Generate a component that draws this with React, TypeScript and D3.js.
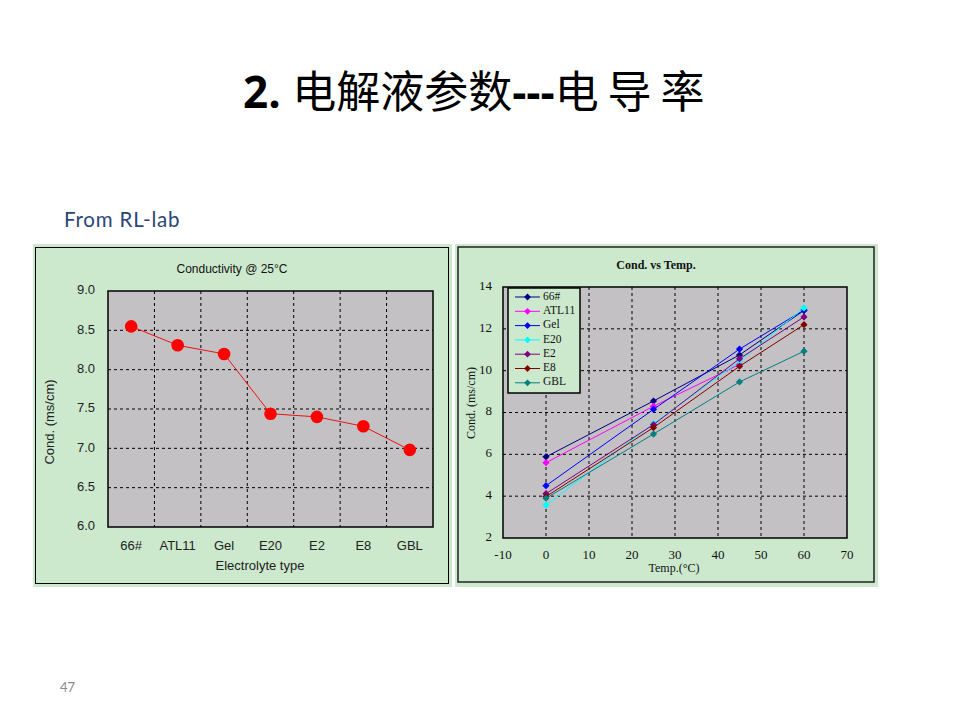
import * as d3 from "d3";

// ---- data ----
const categories = ["66#", "ATL11", "Gel", "E20", "E2", "E8", "GBL"];
const cond25 = [8.55, 8.31, 8.2, 7.44, 7.4, 7.28, 6.98];
const condTicks = [6.0, 6.5, 7.0, 7.5, 8.0, 8.5, 9.0];

const temps = [0, 25, 45, 60];
const seriesNames = ["66#", "ATL11", "Gel", "E20", "E2", "E8", "GBL"];
const seriesColors = ["#000080", "#ff00ff", "#0000ff", "#00ffff", "#800080", "#800000", "#008080"];
const s66 = [5.88, 8.55, 10.75, 12.88];
const sATL11 = [5.6, 8.3, 10.3, null];
const sGel = [4.5, 8.15, 11.03, 12.9];
const sE20 = [3.57, 7.47, 10.45, 13.0];
const sE2 = [4.12, 7.42, 10.57, 12.57];
const sE8 = [3.98, 7.28, 10.21, 12.2];
const sGBL = [3.9, 6.97, 9.46, 10.93];
const seriesValues = [s66, sATL11, sGel, sE20, sE2, sE8, sGBL];
const tempTicks = [-10, 0, 10, 20, 30, 40, 50, 60, 70];
const condTicks2 = [2, 4, 6, 8, 10, 12, 14];

const GREEN = "#cde9cd";
const GRAY = "#c3c1c4";
const SANS = "'Liberation Sans', Arial, sans-serif";
const SERIF = "'Liberation Serif', 'Times New Roman', serif";

function LeftChart() {
  const L = 108, R = 433, T = 291, B = 527;
  const x = d3.scaleBand().domain(categories).range([L, R]);
  const y = d3.scaleLinear().domain([6, 9]).range([B, T]);
  const line = d3.line<number>()
    .x((_, i) => x(categories[i])! + x.bandwidth() / 2)
    .y(d => y(d));
  return (
    <g>
      <rect x={33} y={244} width={419} height={343} fill={GREEN} />
      <rect x={35.5} y={247.5} width={413} height={336} fill="none" stroke="#000" strokeWidth={1} />
      <text x={232} y={270} textAnchor="middle" dominantBaseline="middle" fontFamily={SANS} fontSize={12} fill="#111">Conductivity @ 25°C</text>
      <rect x={L} y={T} width={R - L} height={B - T} fill={GRAY} />
      {condTicks.slice(1, -1).map(t => (
        <line key={t} x1={L} x2={R} y1={y(t)} y2={y(t)} stroke="#000" strokeDasharray="3,3" />
      ))}
      {categories.slice(1).map(c => (
        <line key={c} x1={x(c)} x2={x(c)} y1={T} y2={B} stroke="#000" strokeDasharray="3,3" />
      ))}
      <rect x={L} y={T} width={R - L} height={B - T} fill="none" stroke="#000" strokeWidth={1.5} />
      {condTicks.map(t => (
        <text key={t} x={95} y={y(t)} textAnchor="end" dominantBaseline="middle" fontFamily={SANS} fontSize={13} fill="#222">{t.toFixed(1)}</text>
      ))}
      {categories.map(c => (
        <text key={c} x={x(c)! + x.bandwidth() / 2} y={547} textAnchor="middle" dominantBaseline="middle" fontFamily={SANS} fontSize={13} fill="#222">{c}</text>
      ))}
      <text x={260} y={567} textAnchor="middle" dominantBaseline="middle" fontFamily={SANS} fontSize={13} fill="#222">Electrolyte type</text>
      <text transform="translate(51,422) rotate(-90)" textAnchor="middle" dominantBaseline="middle" fontFamily={SANS} fontSize={13} fill="#222">Cond. (ms/cm)</text>
      <path d={line(cond25) ?? ""} fill="none" stroke="#ee1111" strokeWidth={1} />
      {cond25.map((v, i) => (
        <circle key={i} cx={x(categories[i])! + x.bandwidth() / 2} cy={y(v)} r={6.3} fill="#ff0000" />
      ))}
    </g>
  );
}

function diamond(cx: number, cy: number, r: number) {
  return `M${cx},${cy - r}L${cx + r},${cy}L${cx},${cy + r}L${cx - r},${cy}Z`;
}

function RightChart() {
  const L = 503, R = 847, T = 287, B = 538;
  const x = d3.scaleLinear().domain([-10, 70]).range([L, R]);
  const y = d3.scaleLinear().domain([2, 14]).range([B, T]);
  const line = d3.line<number | null>()
    .defined(d => d != null)
    .x((_, i) => x(temps[i]))
    .y(d => y(d as number));
  const legX = 508, legY = 288, legW = 72, legH = 105;
  const rowY = (i: number) => legY + 9 + i * 14.3;
  return (
    <g>
      <rect x={455} y={244} width={423} height={343} fill={GREEN} />
      <rect x={458} y={247} width={416} height={335} fill="none" stroke="#222" strokeWidth={1.5} />
      <text x={656} y={266} textAnchor="middle" dominantBaseline="middle" fontFamily={SERIF} fontWeight="bold" fontSize={12} fill="#111">Cond.  vs Temp.</text>
      <rect x={L} y={T} width={R - L} height={B - T} fill={GRAY} />
      {condTicks2.slice(1, -1).map(t => (
        <line key={t} x1={L} x2={R} y1={y(t)} y2={y(t)} stroke="#000" strokeDasharray="3,3" />
      ))}
      {tempTicks.slice(1, -1).map(t => (
        <line key={t} x1={x(t)} x2={x(t)} y1={T} y2={B} stroke="#000" strokeDasharray="3,3" />
      ))}
      <rect x={L} y={T} width={R - L} height={B - T} fill="none" stroke="#000" strokeWidth={1.5} />
      {condTicks2.map(t => (
        <text key={t} x={492} y={y(t)} textAnchor="end" dominantBaseline="middle" fontFamily={SERIF} fontSize={13} fill="#111">{t}</text>
      ))}
      {tempTicks.map(t => (
        <text key={t} x={x(t)} y={556} textAnchor="middle" dominantBaseline="middle" fontFamily={SERIF} fontSize={13} fill="#111">{t}</text>
      ))}
      <text x={674} y={569} textAnchor="middle" dominantBaseline="middle" fontFamily={SERIF} fontSize={12} fill="#111">Temp.(°C)</text>
      <text transform="translate(472,403) rotate(-90)" textAnchor="middle" dominantBaseline="middle" fontFamily={SERIF} fontSize={12} fill="#111">Cond. (ms/cm)</text>
      {seriesValues.map((vals, si) => (
        <g key={si}>
          <path d={line(vals) ?? ""} fill="none" stroke={seriesColors[si]} strokeWidth={1} />
          {vals.map((v, i) => v == null ? null : (
            <path key={i} d={diamond(x(temps[i]), y(v), 3.6)} fill={seriesColors[si]} />
          ))}
        </g>
      ))}
      <rect x={legX} y={legY} width={legW} height={legH} fill={GREEN} stroke="#000" strokeWidth={1.5} />
      {seriesNames.map((n, i) => (
        <g key={n}>
          <line x1={515} x2={540} y1={rowY(i)} y2={rowY(i)} stroke={seriesColors[i]} strokeWidth={1} />
          <path d={diamond(527.5, rowY(i), 3.4)} fill={seriesColors[i]} />
          <text x={543} y={rowY(i)} dominantBaseline="middle" fontFamily={SERIF} fontSize={11.5} fill="#111">{n}</text>
        </g>
      ))}
    </g>
  );
}

export default function App() {
  return (
    <svg width={960} height={720} viewBox="0 0 960 720" style={{ position: "absolute", left: 0, top: 0, background: "#fff" }}>
      <text x={243} y={108} fontSize={44} fill="#000">
        <tspan fontFamily="'Open Sans', sans-serif" fontWeight="bold">2. </tspan>
        <tspan fontFamily="'Noto Sans CJK SC', sans-serif" fontWeight={400}>电解液参数</tspan>
        <tspan fontFamily="'Open Sans', sans-serif" fontWeight="bold">---</tspan>
        <tspan fontFamily="'Noto Sans CJK SC', sans-serif" fontWeight={400} letterSpacing={9}>电导率</tspan>
      </text>
      <text x={64} y={227} fontFamily="Lato, 'Open Sans', sans-serif" fontSize={20.5} letterSpacing={0.8} fill="#2a4677">From RL-lab</text>
      <LeftChart />
      <RightChart />
      <text x={60} y={692} fontFamily="Lato, 'Open Sans', sans-serif" fontSize={13} fill="#8a8a8a">47</text>
    </svg>
  );
}
